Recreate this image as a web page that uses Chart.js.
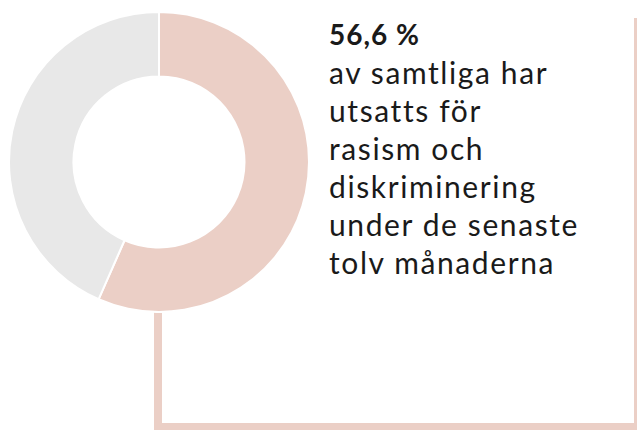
<!DOCTYPE html>
<html lang="sv">
<head>
    <meta charset="UTF-8">
    <script src="https://cdn.jsdelivr.net/npm/chart.js"></script>
    <title>rasism</title>
    <style>
        body{
            margin:0;
            width:637px;
            height:430px;
            overflow:hidden;
            background:#fff;
            position:relative;
        }
        #chart_area{
            position:absolute;
            left:7.5px;
            top:10.5px;
            width:302px;
            height:302px;
            z-index:2;
        }
        #lineLeft{
            position:absolute;
            left:154px;
            top:311px;
            width:480px;
            height:112px;
            border-left:8px solid #ebcfc6;
            border-bottom:8px solid #ebcfc6;
        }
        #lineRight{
            position:absolute;
            left:634px;
            top:18px;
            width:8px;
            height:420px;
            background:#ebcfc6;
        }
        #txt{
            position:absolute;
            left:329px;
            top:14px;
            font-family:Lato, sans-serif;
            font-size:30px;
            line-height:38px;
            color:#1a1a1a;
            letter-spacing:1.6px;
        }
        #txt b{
            font-weight:700;
            font-size:28px;
            letter-spacing:1px;
        }
    </style>
</head>
<body>
    <div id="lineLeft"></div>
    <div id="lineRight"></div>
    <div id="chart_area">
        <canvas id="mychart"></canvas>
    </div>
    <div id="txt"></div>
    <script>
        // andel som utsatts (%)
        let labels = ["Utsatts", "Ej utsatts"];
        let values = [56.6, 43.4];
        let colors = ["#ebcfc6", "#e8e8e8"];
        let headline = "56,6 %";
        let textLines = ["av samtliga har", "utsatts för", "rasism och", "diskriminering", "under de senaste", "tolv månaderna"];

        let txt = document.querySelector("#txt");
        txt.innerHTML = "<b>" + headline + "</b><br>" + textLines.join("<br>");

        let ctx = document.querySelector("#mychart");
        let config = {
            type: "doughnut",
            data: {
                labels: labels,
                datasets: [{
                    data: values,
                    backgroundColor: colors,
                    borderColor: "#fff",
                    borderWidth: 2,
                    hoverOffset: 0,
                }]
            },
            options: {
                responsive: true,
                maintainAspectRatio: false,
                animation: false,
                cutout: "57%",
                layout: { padding: 0 },
                plugins: {
                    legend: { display: false },
                    tooltip: { enabled: false },
                }
            }
        };
        let chart = new Chart(ctx, config);
    </script>
</body>
</html>
